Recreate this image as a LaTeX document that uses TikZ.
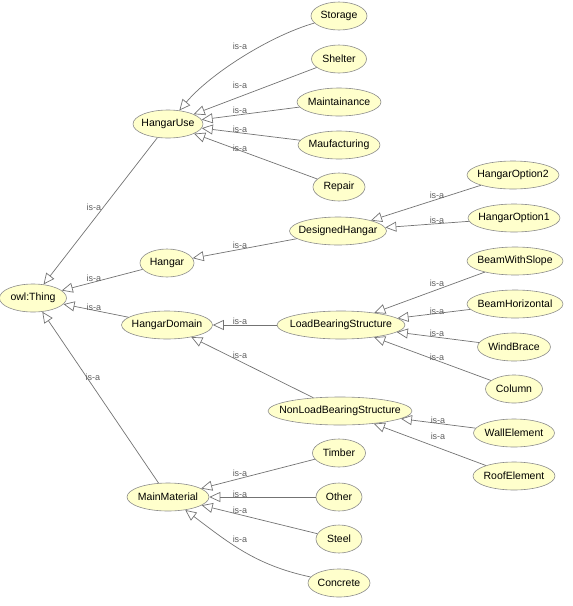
\documentclass[tikz,border=0pt]{standalone}
\usepackage{fontspec}
\setmainfont{Liberation Sans}
\usepackage{tikz}
\usetikzlibrary{shapes.geometric,arrows.meta}

\definecolor{clsfill}{HTML}{FFFFCC}
\definecolor{clsline}{HTML}{8C8C8C}
\definecolor{isaline}{HTML}{737373}
\definecolor{isatext}{HTML}{5E5E5E}

\newcommand{\clsname}[1]{\makebox[0pt]{#1}}

\tikzset{
	cls/.style={ellipse, draw=clsline, fill=clsfill, line width=0.6pt, inner sep=0pt,
		minimum height=28pt, font=\fontsize{10.5}{12}\selectfont},
	isa/.style={draw=isaline, line width=0.7pt, -{Triangle[open, length=11pt, width=10pt]}},
	isalbl/.style={text=isatext, font=\fontsize{9}{10}\selectfont, inner sep=0pt},
}

\begin{document}
\begin{tikzpicture}[x=1pt, y=1pt]
	\useasboundingbox (0,0) rectangle (573,-606);
	% root and first level
	\path (33,-298) node[cls, minimum width=67pt] (thing) {\clsname{owl:Thing}};
	\path (168,-124) node[cls, minimum width=70pt] (hangaruse) {\clsname{HangarUse}};
	\path (167,-263) node[cls, minimum width=54pt] (hangar) {\clsname{Hangar}};
	\path (167,-325) node[cls, minimum width=91pt] (hangardomain) {\clsname{HangarDomain}};
	\path (168,-497) node[cls, minimum width=82pt] (mainmaterial) {\clsname{MainMaterial}};
	% second level
	\path (339,-16) node[cls, minimum width=56pt] (storage) {\clsname{Storage}};
	\path (339,-59) node[cls, minimum width=55pt] (shelter) {\clsname{Shelter}};
	\path (339,-102) node[cls, minimum width=84pt] (maintainance) {\clsname{Maintainance}};
	\path (339,-145) node[cls, minimum width=82pt] (maufacturing) {\clsname{Maufacturing}};
	\path (339,-187) node[cls, minimum width=52pt] (repair) {\clsname{Repair}};
	\path (338,-231) node[cls, minimum width=97pt] (designedhangar) {\clsname{DesignedHangar}};
	\path (341,-325) node[cls, minimum width=128pt] (loadbearing) {\clsname{LoadBearingStructure}};
	\path (340,-411) node[cls, minimum width=144pt] (nonloadbearing) {\clsname{NonLoadBearingStructure}};
	\path (339,-453) node[cls, minimum width=53pt] (timber) {\clsname{Timber}};
	\path (339,-497) node[cls, minimum width=46pt] (other) {\clsname{Other}};
	\path (339,-539) node[cls, minimum width=46pt] (steel) {\clsname{Steel}};
	\path (339,-583) node[cls, minimum width=62pt] (concrete) {\clsname{Concrete}};
	% third level
	\path (513,-175) node[cls, minimum width=92pt] (option2) {\clsname{HangarOption2}};
	\path (514,-218) node[cls, minimum width=92pt] (option1) {\clsname{HangarOption1}};
	\path (515,-261) node[cls, minimum width=96pt] (beamslope) {\clsname{BeamWithSlope}};
	\path (515,-304) node[cls, minimum width=96pt] (beamhoriz) {\clsname{BeamHorizontal}};
	\path (514,-347) node[cls, minimum width=73pt] (windbrace) {\clsname{WindBrace}};
	\path (514,-389) node[cls, minimum width=57pt] (column) {\clsname{Column}};
	\path (514,-433) node[cls, minimum width=81pt] (wallelement) {\clsname{WallElement}};
	\path (514,-476) node[cls, minimum width=82pt] (roofelement) {\clsname{RoofElement}};

	% is-a links to owl:Thing
	\draw[isa] (hangaruse) -- (thing);
	\path (94,-207) node[isalbl] (l-hangaruse) {is-a};
	\draw[isa] (hangar) -- (thing);
	\path (94,-278) node[isalbl] (l-hangar) {is-a};
	\draw[isa] (hangardomain) -- (thing);
	\path (94,-307) node[isalbl] (l-hangardomain) {is-a};
	\draw[isa] (mainmaterial) -- (thing);
	\path (93,-377) node[isalbl] (l-mainmaterial) {is-a};

	% is-a links to HangarUse
	\draw[isa] (storage) to[out=196, in=50, looseness=0.75] (hangaruse);
	\path (240,-46) node[isalbl] (l-storage) {is-a};
	\draw[isa] (shelter) -- (hangaruse);
	\path (240,-85) node[isalbl] (l-shelter) {is-a};
	\draw[isa] (maintainance) -- (hangaruse);
	\path (240,-110) node[isalbl] (l-maintainance) {is-a};
	\draw[isa] (maufacturing) -- (hangaruse);
	\path (240,-129) node[isalbl] (l-maufacturing) {is-a};
	\draw[isa] (repair) -- (hangaruse);
	\path (240,-148) node[isalbl] (l-repair) {is-a};

	% is-a links to Hangar and DesignedHangar
	\draw[isa] (designedhangar) -- (hangar);
	\path (240,-245) node[isalbl] (l-designedhangar) {is-a};
	\draw[isa] (option2) -- (designedhangar);
	\path (437,-195) node[isalbl] (l-option2) {is-a};
	\draw[isa] (option1) -- (designedhangar);
	\path (437,-220) node[isalbl] (l-option1) {is-a};

	% is-a links to HangarDomain and its structures
	\draw[isa] (loadbearing) -- (hangardomain);
	\path (240,-321) node[isalbl] (l-loadbearing) {is-a};
	\draw[isa] (nonloadbearing) -- (hangardomain);
	\path (240,-355) node[isalbl] (l-nonloadbearing) {is-a};
	\draw[isa] (beamslope) -- (loadbearing);
	\path (437,-283) node[isalbl] (l-beamslope) {is-a};
	\draw[isa] (beamhoriz) -- (loadbearing);
	\path (437,-311) node[isalbl] (l-beamhoriz) {is-a};
	\draw[isa] (windbrace) -- (loadbearing);
	\path (437,-333) node[isalbl] (l-windbrace) {is-a};
	\draw[isa] (column) -- (loadbearing);
	\path (437,-357) node[isalbl] (l-column) {is-a};
	\draw[isa] (wallelement) -- (nonloadbearing);
	\path (438,-420) node[isalbl] (l-wallelement) {is-a};
	\draw[isa] (roofelement) -- (nonloadbearing);
	\path (438,-436) node[isalbl] (l-roofelement) {is-a};

	% is-a links to MainMaterial
	\draw[isa] (timber) -- (mainmaterial);
	\path (240,-473) node[isalbl] (l-timber) {is-a};
	\draw[isa] (other) -- (mainmaterial);
	\path (240,-494) node[isalbl] (l-other) {is-a};
	\draw[isa] (steel) -- (mainmaterial);
	\path (240,-510) node[isalbl] (l-steel) {is-a};
	\draw[isa] (concrete) to[out=168, in=-37] (mainmaterial);
	\path (240,-539) node[isalbl] (l-concrete) {is-a};
\end{tikzpicture}
\end{document}
